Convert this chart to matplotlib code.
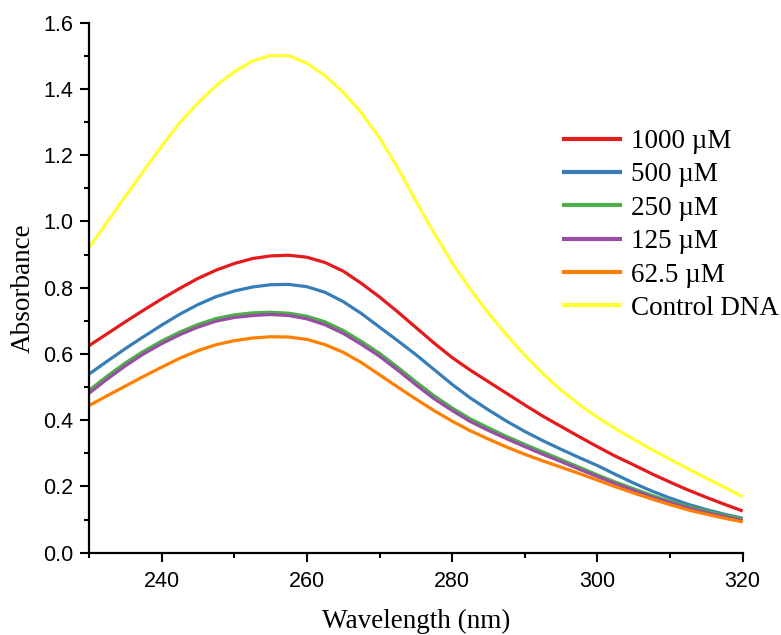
import matplotlib
matplotlib.use("Agg")
import matplotlib.pyplot as plt
from matplotlib.ticker import MultipleLocator, FormatStrFormatter

wavelength = [230, 232.5, 235, 237.5, 240, 242.5, 245, 247.5, 250, 252.5,
              255, 257.5, 260, 262.5, 265, 267.5, 270, 272.5, 275, 277.5,
              280, 282.5, 285, 287.5, 290, 292.5, 295, 297.5, 300, 302.5,
              305, 307.5, 310, 312.5, 315, 317.5, 320]

abs_1000 = [0.625, 0.661, 0.697, 0.732, 0.766, 0.798, 0.828, 0.853, 0.873, 0.888,
            0.896, 0.898, 0.892, 0.876, 0.850, 0.813, 0.772, 0.727, 0.680, 0.633,
            0.589, 0.551, 0.516, 0.481, 0.446, 0.412, 0.381, 0.350, 0.320, 0.291,
            0.265, 0.238, 0.213, 0.189, 0.167, 0.146, 0.126]
abs_500 = [0.539, 0.578, 0.616, 0.652, 0.687, 0.720, 0.749, 0.773, 0.790, 0.802,
           0.809, 0.810, 0.803, 0.786, 0.758, 0.722, 0.681, 0.640, 0.598, 0.553,
           0.508, 0.467, 0.431, 0.397, 0.366, 0.338, 0.312, 0.287, 0.263, 0.236,
           0.210, 0.186, 0.165, 0.146, 0.130, 0.116, 0.104]
abs_250 = [0.490, 0.533, 0.573, 0.608, 0.639, 0.666, 0.689, 0.707, 0.718, 0.724,
           0.726, 0.723, 0.714, 0.697, 0.671, 0.638, 0.602, 0.560, 0.516, 0.474,
           0.437, 0.404, 0.377, 0.351, 0.327, 0.304, 0.281, 0.258, 0.235, 0.213,
           0.193, 0.173, 0.155, 0.139, 0.125, 0.113, 0.102]
abs_125 = [0.481, 0.524, 0.564, 0.600, 0.631, 0.658, 0.681, 0.699, 0.710, 0.716,
           0.719, 0.716, 0.706, 0.688, 0.662, 0.629, 0.593, 0.551, 0.507, 0.465,
           0.429, 0.396, 0.369, 0.344, 0.320, 0.297, 0.275, 0.252, 0.230, 0.208,
           0.188, 0.168, 0.151, 0.135, 0.121, 0.109, 0.097]
abs_62_5 = [0.444, 0.474, 0.503, 0.532, 0.560, 0.587, 0.610, 0.628, 0.640, 0.648,
            0.652, 0.651, 0.644, 0.628, 0.605, 0.574, 0.537, 0.500, 0.464, 0.429,
            0.397, 0.368, 0.343, 0.319, 0.297, 0.277, 0.258, 0.239, 0.219, 0.199,
            0.180, 0.162, 0.145, 0.129, 0.116, 0.104, 0.093]
abs_control = [0.920, 0.998, 1.076, 1.152, 1.227, 1.298, 1.358, 1.410, 1.452, 1.484,
               1.501, 1.500, 1.478, 1.440, 1.390, 1.328, 1.252, 1.162, 1.062, 0.965,
               0.875, 0.795, 0.723, 0.657, 0.596, 0.540, 0.491, 0.447, 0.409, 0.374,
               0.342, 0.311, 0.282, 0.253, 0.225, 0.197, 0.169]

labels = ["1000 \u00b5M", "500 \u00b5M", "250 \u00b5M", "125 \u00b5M", "62.5 \u00b5M", "Control DNA"]
series = [abs_1000, abs_500, abs_250, abs_125, abs_62_5, abs_control]
colors = ["#e41a1c", "#377eb8", "#4daf4a", "#984ea3", "#ff7f00", "#ffff33"]

W, H = 781, 635
fig = plt.figure(figsize=(W / 100, H / 100), dpi=100)
ax = fig.add_axes([89 / W, 1 - 552.7 / H, (742.7 - 89) / W, (552.7 - 22.7) / H])

for y, c, lab in zip(series, colors, labels):
    ax.plot(wavelength, y, color=c, lw=2.3, label=lab, solid_capstyle="butt",
            solid_joinstyle="round")

ax.set_xlim(230, 320)
ax.set_ylim(0, 1.6)
ax.set_xticks([240, 260, 280, 300, 320])
ax.xaxis.set_minor_locator(MultipleLocator(10))
ax.yaxis.set_major_locator(MultipleLocator(0.2))
ax.yaxis.set_minor_locator(MultipleLocator(0.1))
ax.xaxis.set_major_formatter(FormatStrFormatter("%d"))
ax.yaxis.set_major_formatter(FormatStrFormatter("%.1f"))

for s in ["top", "right"]:
    ax.spines[s].set_visible(False)
for s in ["left", "bottom"]:
    ax.spines[s].set_linewidth(1.6)
    ax.spines[s].set_color("black")

ax.tick_params(axis="both", which="major", direction="out", length=6.5, width=1.5,
               labelsize=15.5, color="black")
ax.tick_params(axis="both", which="minor", direction="out", length=3.8, width=1.5, color="black")
ax.tick_params(axis="x", which="major", pad=7)
ax.tick_params(axis="y", which="major", pad=5)
for lab in ax.get_xticklabels() + ax.get_yticklabels():
    lab.set_family("Liberation Sans")

ax.set_xlabel("Wavelength (nm)", family="Liberation Serif", fontsize=19.5, labelpad=12)
ax.set_ylabel("Absorbance", family="Liberation Serif", fontsize=19.5, labelpad=5)

leg = ax.legend(loc="upper left", bbox_to_anchor=(562 / W, 1 - 129 / H),
                bbox_transform=fig.transFigure, frameon=False,
                prop={"family": "Liberation Serif", "size": 19.5},
                handlelength=2.2, handletextpad=0.35, labelspacing=0.31,
                borderpad=0, borderaxespad=0)
for h in leg.get_lines():
    h.set_linewidth(3)

fig.savefig("out.png", dpi=100)
